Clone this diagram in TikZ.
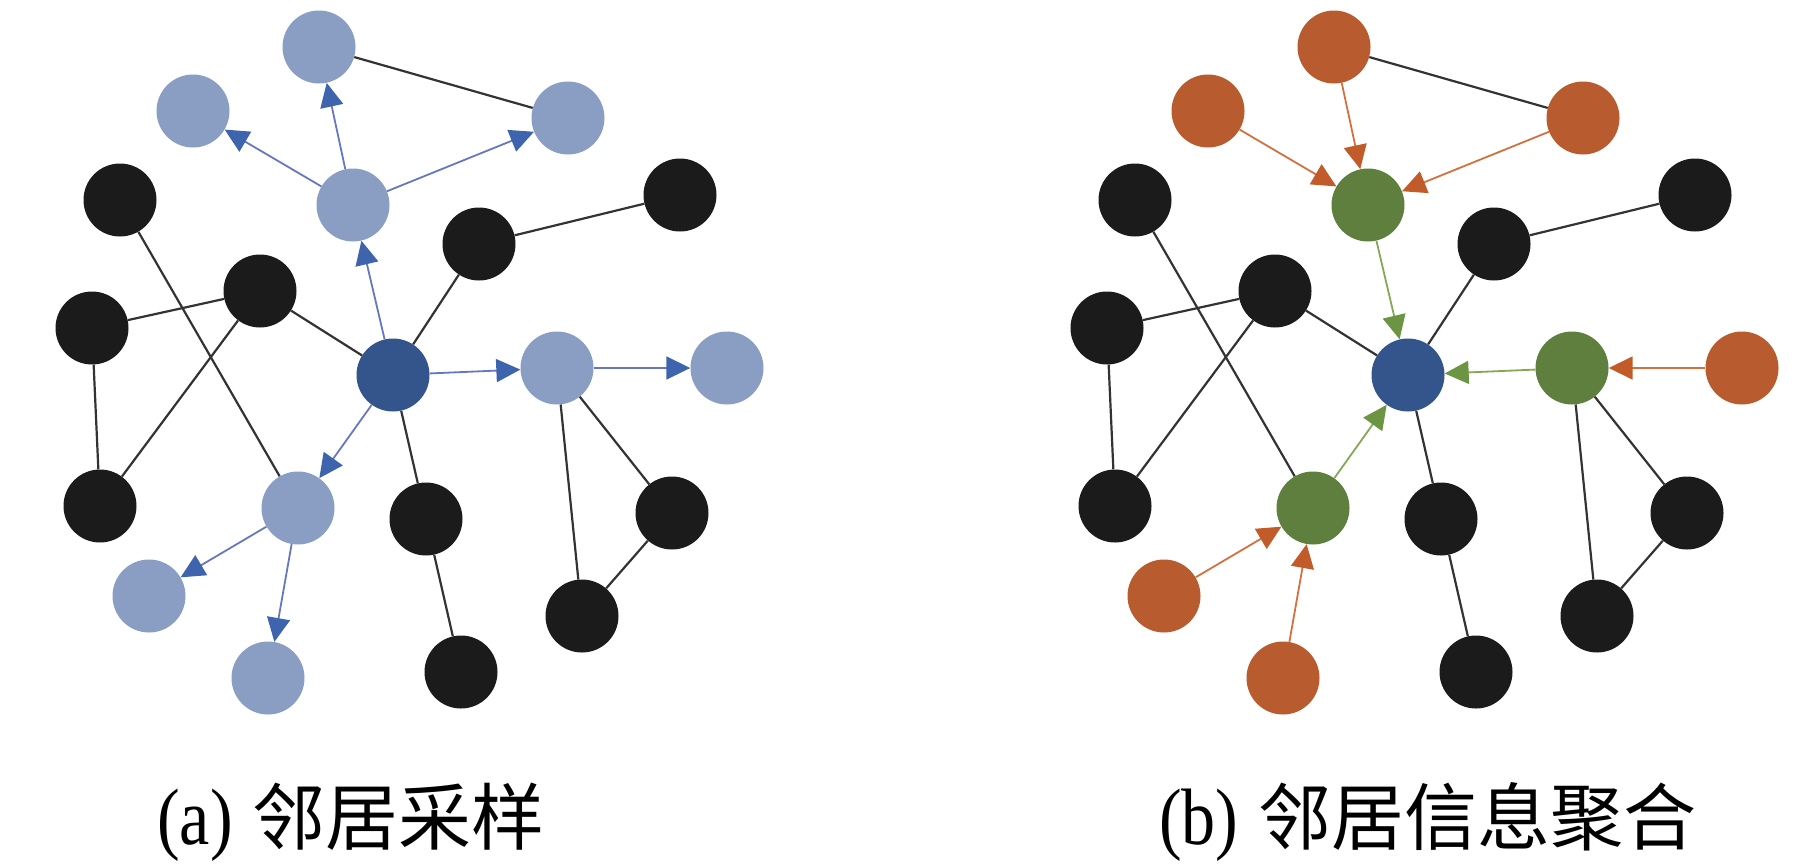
\documentclass[tikz,border=0pt]{standalone}
\usepackage{fontspec}
\usepackage{graphicx}
\usetikzlibrary{arrows.meta}
\setmainfont{Liberation Serif}
\newfontfamily\cjkfont{Noto Sans CJK SC}

\definecolor{nlight}{HTML}{8A9EC4}
\definecolor{ndark}{HTML}{34558C}
\definecolor{nblack}{HTML}{1B1B1B}
\definecolor{norange}{HTML}{B85B2E}
\definecolor{ngreen}{HTML}{5F7F3F}
\definecolor{eplain}{HTML}{333333}
\definecolor{eblue}{HTML}{6677C0}
\definecolor{tblue}{HTML}{3D64AD}
\definecolor{egreen}{HTML}{84A855}
\definecolor{tgreen}{HTML}{6B9443}
\definecolor{eorange}{HTML}{D4703E}
\definecolor{torange}{HTML}{C25B2A}

\tikzset{
  gnode/.style={circle, minimum size=73pt, inner sep=0pt, draw=none},
  centernode/.style={gnode, fill=ndark},
  blacknode/.style={gnode, fill=nblack},
  plainedge/.style={draw=eplain, line width=2.2pt},
  tipstyle/.style={-{Triangle[length=24pt, width=23pt, fill=#1, color=#1]}},
  tipback/.style={{Triangle[length=24pt, width=23pt, fill=#1, color=#1]}-},
  captext/.style={anchor=base west, inner sep=0pt},
}

\newcommand{\graphlayout}{%
  % nodes
  \node[hoptwo]    (T)   at (319,47)  {};
  \node[hoptwo]    (TL)  at (193,111) {};
  \node[hoptwo]    (TR)  at (568,118) {};
  \node[hopone]    (P1)  at (353,205) {};
  \node[blacknode] (B1)  at (120,200) {};
  \node[blacknode] (B2)  at (479,244) {};
  \node[blacknode] (B3)  at (680,195) {};
  \node[blacknode] (B4)  at (92,328)  {};
  \node[blacknode] (B5)  at (260,291) {};
  \node[centernode](C)   at (393,375) {};
  \node[hopone]    (P2)  at (557,368) {};
  \node[hoptwo]    (P3)  at (727,368) {};
  \node[blacknode] (B6)  at (100,506) {};
  \node[hopone]    (P4)  at (298,508) {};
  \node[blacknode] (B7)  at (426,519) {};
  \node[blacknode] (B8)  at (672,513) {};
  \node[hoptwo]    (P5)  at (149,596) {};
  \node[hoptwo]    (P6)  at (268,678) {};
  \node[blacknode] (B9)  at (461,672) {};
  \node[blacknode] (B10) at (582,616) {};
  % plain edges
  \draw[plainedge] (T) -- (TR);
  \draw[plainedge] (B3) -- (B2);
  \draw[plainedge] (B2) -- (C);
  \draw[plainedge] (B5) -- (C);
  \draw[plainedge] (B5) -- (B4);
  \draw[plainedge] (B5) -- (B6);
  \draw[plainedge] (B4) -- (B6);
  \draw[plainedge] (B1) -- (P4);
  \draw[plainedge] (C) -- (B7);
  \draw[plainedge] (B7) -- (B9);
  \draw[plainedge] (P2) -- (B8);
  \draw[plainedge] (P2) -- (B10);
  \draw[plainedge] (B8) -- (B10);
  % first-hop edges
  \draw[edgeone] (C) -- (P1);
  \draw[edgeone] (C) -- (P2);
  \draw[edgeone] (C) -- (P4);
  % second-hop edges
  \draw[edgetwo] (P1) -- (T);
  \draw[edgetwo] (P1) -- (TL);
  \draw[edgetwo] (P1) -- (TR);
  \draw[edgetwo] (P2) -- (P3);
  \draw[edgetwo] (P4) -- (P5);
  \draw[edgetwo] (P4) -- (P6);
}

\begin{document}
\begin{tikzpicture}[x=1pt, y=-1pt]
  \useasboundingbox (0,0) rectangle (1806,863);

  \begin{scope}[name prefix=a-,
      hopone/.style={gnode, fill=nlight},
      hoptwo/.style={gnode, fill=nlight},
      edgeone/.style={draw=eblue, line width=1.8pt, tipstyle=tblue},
      edgetwo/.style={draw=eblue, line width=1.8pt, tipstyle=tblue}]
    \graphlayout
  \end{scope}

  \begin{scope}[xshift=1015pt, name prefix=b-,
      hopone/.style={gnode, fill=ngreen},
      hoptwo/.style={gnode, fill=norange},
      edgeone/.style={draw=egreen, line width=1.8pt, tipback=tgreen},
      edgetwo/.style={draw=eorange, line width=1.8pt, tipback=torange}]
    \graphlayout
  \end{scope}

  \node[captext] (capa) at (157,844)
    {\scalebox{0.85}[1]{\fontsize{80}{90}\selectfont (a)}\hspace{20pt}{\cjkfont\fontsize{73}{84}\selectfont 邻居采样}};
  \node[captext] (capb) at (1159,844)
    {\scalebox{0.85}[1]{\fontsize{80}{90}\selectfont (b)}\hspace{20pt}{\cjkfont\fontsize{73}{84}\selectfont 邻居信息聚合}};
\end{tikzpicture}
\end{document}
